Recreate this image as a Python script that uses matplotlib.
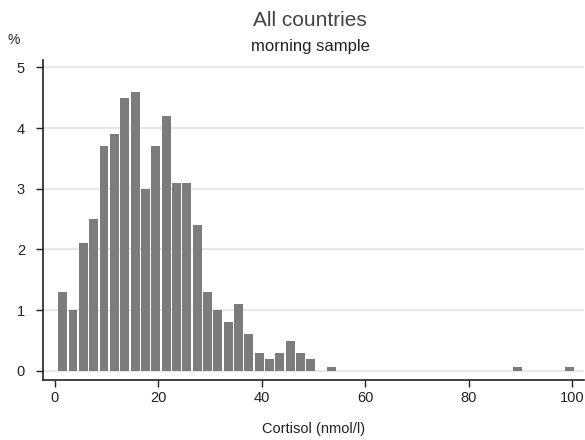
import matplotlib
matplotlib.use("Agg")
import matplotlib.pyplot as plt

# Data (percent of observations per 2-unit bin, bin centres in nmol/l)
bin_centers = [1.5, 3.5, 5.5, 7.5, 9.5, 11.5, 13.5, 15.5, 17.5, 19.5,
               21.5, 23.5, 25.5, 27.5, 29.5, 31.5, 33.5, 35.5, 37.5, 39.5,
               41.5, 43.5, 45.5, 47.5, 49.5, 51.5, 53.5, 89.5, 99.5]
percent = [1.3, 1.0, 2.1, 2.5, 3.7, 3.9, 4.5, 4.6, 3.0, 3.7,
           4.2, 3.1, 3.1, 2.4, 1.3, 1.0, 0.8, 1.1, 0.6, 0.3,
           0.2, 0.3, 0.5, 0.3, 0.2, 0.0, 0.07, 0.07, 0.07]
bin_width = 2
x_ticks = [0, 20, 40, 60, 80, 100]
y_ticks = [0, 1, 2, 3, 4, 5]

title = "All countries"
subtitle = "morning sample"
x_label = "Cortisol (nmol/l)"
y_label = "%"

plt.rcParams['font.family'] = ['Liberation Sans', 'DejaVu Sans']

fig = plt.figure(figsize=(5.85, 4.4), dpi=100)
W, H = 585, 440
left_px, right_px, top_px, bottom_px = 43, 584, 60, 380
ax = fig.add_axes([left_px / W, 1 - bottom_px / H,
                   (right_px - left_px) / W, (bottom_px - top_px) / H])

ax.bar(bin_centers, percent, width=bin_width * 0.86, color="#7c7c7c",
       edgecolor="none", zorder=3)

ax.set_xlim(-2.3, 102.3)
ax.set_ylim(-0.15, 5.12)
ax.set_xticks(x_ticks)
ax.set_yticks(y_ticks)
ax.yaxis.grid(True, color="#e8e8e8", linewidth=1.6, zorder=0)
ax.set_axisbelow(True)

for s in ["top", "right"]:
    ax.spines[s].set_visible(False)
for s in ["left", "bottom"]:
    ax.spines[s].set_color("#222222")
    ax.spines[s].set_linewidth(1.2)

ax.tick_params(axis="both", direction="out", length=5, width=1.0,
               color="#222222", labelsize=10.5, labelcolor="#222222")
ax.tick_params(axis="y", pad=8)
ax.tick_params(axis="x", pad=3)

ax.set_xlabel(x_label, fontsize=10.5, color="#222222", labelpad=12)

fig.text(310 / W, 1 - 20 / H, title, ha="center", va="center",
         fontsize=15, color="#444444")
fig.text(310 / W, 1 - 46 / H, subtitle, ha="center", va="center",
         fontsize=12, color="#222222")
fig.text(14 / W, 1 - 40 / H, y_label, ha="center", va="center",
         fontsize=10, color="#222222")

fig.savefig("out.png", dpi=100, facecolor="white")
